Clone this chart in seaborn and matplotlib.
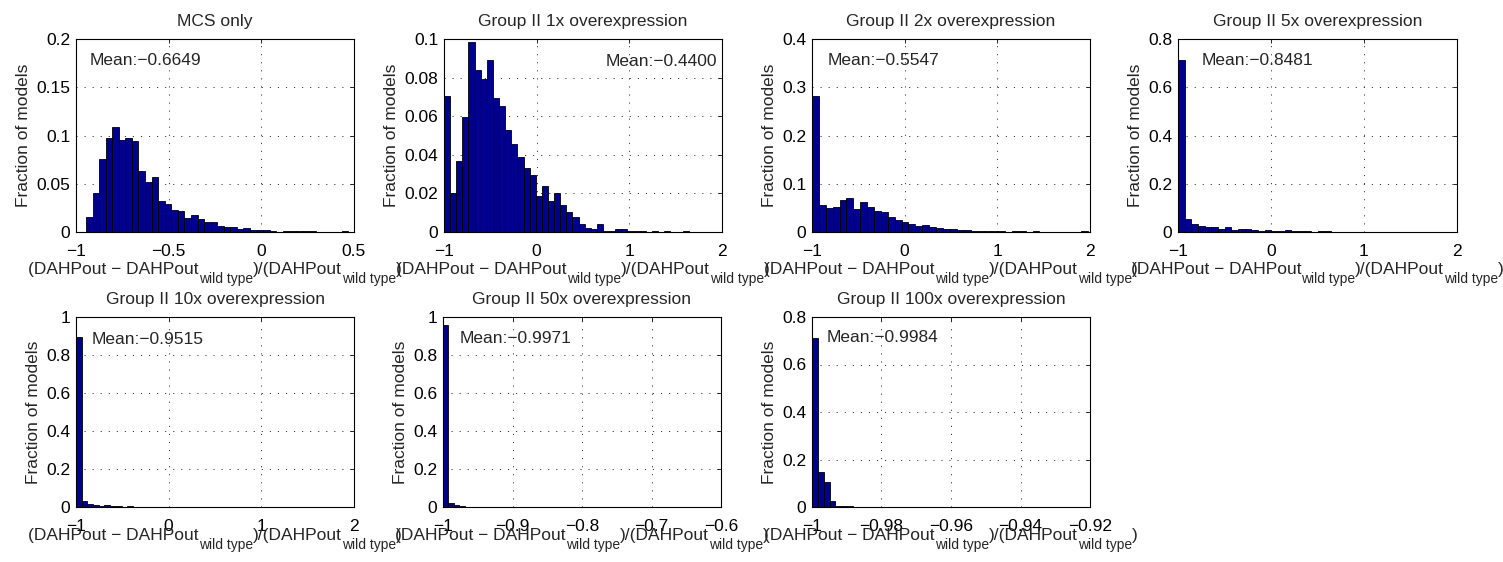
import numpy as np
import pandas as pd
import matplotlib
matplotlib.use("Agg")
import matplotlib.pyplot as plt
from matplotlib.ticker import FuncFormatter
from matplotlib.transforms import IdentityTransform
import seaborn as sns

# ---- data: fraction of models per bin, 40 equal bins between lo and hi ----
titles = [
    "MCS only",
    "Group II 1x overexpression",
    "Group II 2x overexpression",
    "Group II 5x overexpression",
    "Group II 10x overexpression",
    "Group II 50x overexpression",
    "Group II 100x overexpression",
]
mean_labels = ["Mean:−0.6649", "Mean:−0.4400", "Mean:−0.5547", "Mean:−0.8481",
               "Mean:−0.9515", "Mean:−0.9971", "Mean:−0.9984"]

mcs_only = [0.0153, 0.0399, 0.0753, 0.0979, 0.1083, 0.0958, 0.0969, 0.0944,
            0.0628, 0.0521, 0.0569, 0.0319, 0.0292, 0.0229, 0.0215, 0.0146,
            0.0181, 0.0139, 0.0104, 0.0104, 0.0059, 0.0049, 0.0049, 0.0031,
            0.0038, 0.0021, 0.0024, 0.0017, 0.0010, 0.0000, 0.0007, 0.0007,
            0.0007, 0.0014, 0.0007, 0.0000, 0.0000, 0.0000, 0.0000, 0.0010]
over_1x = [0.0705, 0.0202, 0.0368, 0.0595, 0.0986, 0.0839, 0.0795, 0.0893,
           0.0695, 0.0653, 0.0528, 0.0454, 0.0389, 0.0333, 0.0295, 0.0189,
           0.0237, 0.0163, 0.0202, 0.0139, 0.0104, 0.0079, 0.0042, 0.0023,
           0.0016, 0.0042, 0.0007, 0.0007, 0.0014, 0.0014, 0.0007, 0.0007,
           0.0007, 0.0000, 0.0007, 0.0000, 0.0007, 0.0000, 0.0000, 0.0007]
over_2x = [0.2820, 0.0567, 0.0491, 0.0518, 0.0657, 0.0698, 0.0484, 0.0615,
           0.0525, 0.0442, 0.0408, 0.0304, 0.0242, 0.0207, 0.0159, 0.0131,
           0.0145, 0.0104, 0.0090, 0.0055, 0.0055, 0.0048, 0.0041, 0.0021,
           0.0021, 0.0014, 0.0014, 0.0028, 0.0000, 0.0014, 0.0014, 0.0000,
           0.0028, 0.0000, 0.0000, 0.0000, 0.0000, 0.0000, 0.0000, 0.0021]
over_5x = [0.7140, 0.0556, 0.0347, 0.0264, 0.0208, 0.0194, 0.0111, 0.0194,
           0.0097, 0.0139, 0.0111, 0.0069, 0.0028, 0.0069, 0.0056, 0.0042,
           0.0069, 0.0042, 0.0028, 0.0028, 0.0014, 0.0028, 0.0042, 0.0014,
           0.0014, 0.0007, 0.0007, 0.0014, 0.0007, 0.0007, 0.0007, 0.0007,
           0.0007, 0.0000, 0.0007, 0.0000, 0.0007, 0.0000, 0.0000, 0.0007]
over_10x = [0.8940, 0.0290, 0.0150, 0.0120, 0.0030, 0.0090, 0.0030, 0.0030,
            0.0020, 0.0030, 0.0020, 0.0020, 0.0020, 0.0020, 0.0020, 0.0010,
            0.0020, 0.0020, 0.0005, 0.0005, 0.0005, 0.0005, 0.0005, 0.0005,
            0.0005, 0.0005, 0.0005, 0.0005, 0.0000, 0.0005, 0.0000, 0.0005,
            0.0000, 0.0005, 0.0000, 0.0000, 0.0005, 0.0000, 0.0000, 0.0005]
over_50x = [0.9570, 0.0220, 0.0080, 0.0040, 0.0020, 0.0010, 0.0010, 0.0010,
            0.0010, 0.0005, 0.0005, 0.0005, 0.0005, 0.0000, 0.0005, 0.0000,
            0.0000, 0.0000, 0.0000, 0.0005, 0.0000, 0.0000, 0.0000, 0.0000,
            0.0000, 0.0000, 0.0000, 0.0000, 0.0000, 0.0000, 0.0000, 0.0000,
            0.0000, 0.0000, 0.0000, 0.0000, 0.0000, 0.0000, 0.0000, 0.0000]
over_100x = [0.7100, 0.1460, 0.1056, 0.0236, 0.0040, 0.0040, 0.0056, 0.0000,
             0.0000, 0.0000, 0.0000, 0.0000, 0.0000, 0.0000, 0.0000, 0.0000,
             0.0000, 0.0000, 0.0000, 0.0000, 0.0000, 0.0000, 0.0000, 0.0000,
             0.0000, 0.0000, 0.0000, 0.0000, 0.0000, 0.0000, 0.0000, 0.0000,
             0.0000, 0.0000, 0.0000, 0.0000, 0.0000, 0.0000, 0.0000, 0.0000]
series = [mcs_only, over_1x, over_2x, over_5x, over_10x, over_50x, over_100x]

# range of the binned values (first and last bin edge)
bin_lo = [-0.946, -1.0, -1.0, -1.0, -1.0, -1.0, -1.0]
bin_hi = [0.470, 1.640, 1.975, 1.868, 1.456, -0.684, -0.9324]

x_ticks = [
    [-1, -0.5, 0, 0.5],
    [-1, 0, 1, 2],
    [-1, 0, 1, 2],
    [-1, 0, 1, 2],
    [-1, 0, 1, 2],
    [-1, -0.9, -0.8, -0.7, -0.6],
    [-1, -0.98, -0.96, -0.94, -0.92],
]
y_ticks = [
    [0, 0.05, 0.1, 0.15, 0.2],
    [0, 0.02, 0.04, 0.06, 0.08, 0.1],
    [0, 0.1, 0.2, 0.3, 0.4],
    [0, 0.2, 0.4, 0.6, 0.8],
    [0, 0.2, 0.4, 0.6, 0.8, 1],
    [0, 0.2, 0.4, 0.6, 0.8, 1],
    [0, 0.2, 0.4, 0.6, 0.8],
]

# x-axis label: (text, is_subscript) pieces
xlabel_parts = [("(DAHPout − DAHPout", False), ("wild type", True),
                (")/(DAHPout", False), ("wild type", True), (")", False)]

# ---- layout / style ----
W, H = 1503, 562
axes_px = [  # left, top, right, bottom in pixels
    (76, 39, 354, 232), (444, 39, 722, 232), (812, 39, 1090, 232), (1178, 39, 1457, 232),
    (76, 317, 354, 507), (443, 317, 721, 507), (812, 317, 1090, 507),
]
xlabel_baseline_px = [274, 274, 274, 274, 540, 540, 540]
mean_pos = [(0.05, 0.888, "left"), (0.982, 0.886, "right"), (0.056, 0.89, "left"),
            (0.086, 0.89, "left"), (0.056, 0.88, "left"), (0.06, 0.888, "left"),
            (0.054, 0.89, "left")]
BAR = "#00008F"
FS = 12.5
SUB_SCALE = 0.8
SUB_DROP = 8.5  # px

sns.set_style("white")
plt.rcParams["font.family"] = ["Liberation Sans", "DejaVu Sans"]
plt.rcParams["lines.scale_dashes"] = False
plt.rcParams["axes.unicode_minus"] = True


def tick_fmt(v, pos):
    s = f"{v:.6g}"
    if s in ("-0", "0.0"):
        s = "0"
    return s.replace("-", "−")


fig = plt.figure(figsize=(W / 100, H / 100), dpi=100)
fig.patch.set_facecolor("white")
renderer = fig.canvas.get_renderer()


def draw_xlabel(center_x, baseline_y):
    """Place the label piece by piece so subscripts sit low, centred on center_x."""
    texts = []
    for s, sub in xlabel_parts:
        t = fig.text(0, 0, s, fontsize=FS * SUB_SCALE if sub else FS,
                     ha="left", va="baseline", transform=IdentityTransform())
        texts.append((t, sub))
    widths = [t.get_window_extent(renderer).width for t, _ in texts]
    x = center_x - sum(widths) / 2.0
    for (t, sub), w in zip(texts, widths):
        y = H - baseline_y - (SUB_DROP if sub else 0)
        t.set_position((x, y))
        x += w


for i, heights in enumerate(series):
    l, t, r, b = axes_px[i]
    ax = fig.add_axes([l / W, 1 - b / H, (r - l) / W, (b - t) / H])
    edges = np.linspace(bin_lo[i], bin_hi[i], len(heights) + 1)
    df = pd.DataFrame({"value": 0.5 * (edges[:-1] + edges[1:]),
                       "fraction": np.asarray(heights, dtype=float)})
    sns.histplot(data=df, x="value", weights="fraction", bins=edges.tolist(),
                 ax=ax, color=BAR, edgecolor="black", linewidth=0.6, alpha=1.0)

    xt, yt = x_ticks[i], y_ticks[i]
    ax.set_xlim(xt[0], xt[-1])
    ax.set_ylim(yt[0], yt[-1])
    ax.set_xticks(xt)
    ax.set_yticks(yt)
    ax.xaxis.set_major_formatter(FuncFormatter(tick_fmt))
    ax.yaxis.set_major_formatter(FuncFormatter(tick_fmt))
    ax.tick_params(direction="in", length=3, width=0.6, top=True, right=True,
                   labelsize=FS, colors="black")
    ax.tick_params(axis="x", pad=8.5)
    ax.tick_params(axis="y", pad=4)
    ax.set_axisbelow(True)
    ax.grid(True, color="0.2", linewidth=0.7, linestyle=(0, (0.8, 5)))
    for sp in ax.spines.values():
        sp.set_color("black")
        sp.set_linewidth(0.8)

    ax.set_title(titles[i], fontsize=FS, pad=9.5)
    ax.set_ylabel("Fraction of models", fontsize=FS, labelpad=4)
    ax.set_xlabel("")
    mx, my, ha = mean_pos[i]
    ax.text(mx, my, mean_labels[i], transform=ax.transAxes, fontsize=FS,
            ha=ha, va="center")
    draw_xlabel((l + r) / 2.0, xlabel_baseline_px[i])

fig.savefig("out.png", dpi=100, facecolor="white")
